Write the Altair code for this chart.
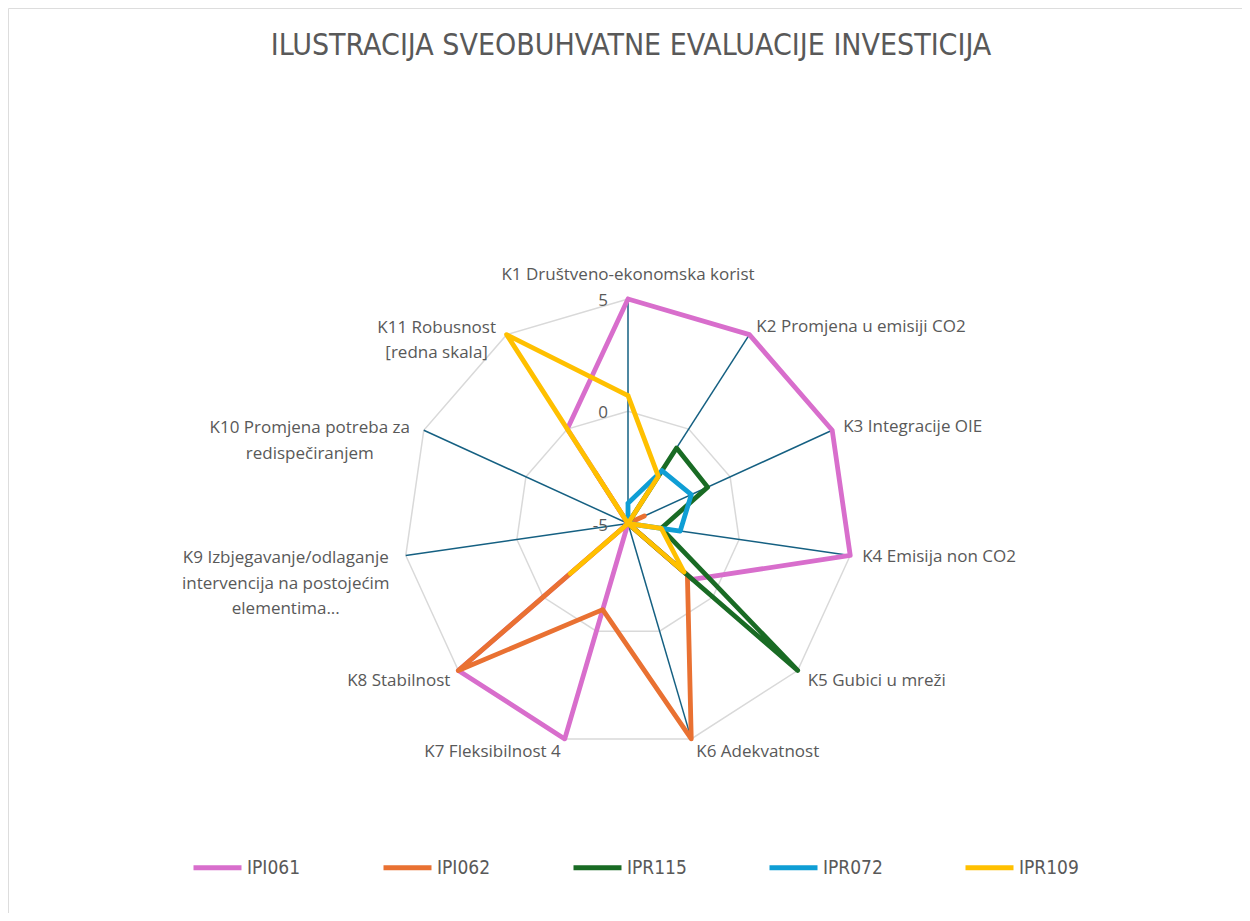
import math
import altair as alt
import pandas as pd

# ---------------- data ----------------
TITLE = "ILUSTRACIJA SVEOBUHVATNE EVALUACIJE INVESTICIJA"
CATEGORIES = [
    "K1 Društveno-ekonomska korist",
    "K2 Promjena u emisiji CO2",
    "K3 Integracije OIE",
    "K4 Emisija non CO2",
    "K5 Gubici u mreži",
    "K6 Adekvatnost",
    "K7 Fleksibilnost 4",
    "K8 Stabilnost",
    "K9 Izbjegavanje/odlaganje\nintervencija na postojećim\nelementima...",
    "K10 Promjena potreba za\nredispečiranjem",
    "K11 Robusnost\n[redna skala]",
]
SERIES = ["IPI061", "IPI062", "IPR115", "IPR072", "IPR109"]
IPI061 = [5, 5, 5, 5, -1.2, -5, 5, 5, -5, -5, 0]
IPI062 = [-5, -5, -4.2, -5, -1.5, 5, -1, 5, -5, -5, -2.3]
IPR115 = [-5, -1, -1.1, -3.5, 5, -5, -5, -5, -5, -5, -5]
IPR072 = [-4.1, -2.2, -1.9, -2.65, -5, -5, -5, -5, -5, -5, -5]
IPR109 = [0.7, -2.5, -5, -3.5, -1.7, -5, -5, -1.6, -5, -5, 5]
VALUES = [IPI061, IPI062, IPR115, IPR072, IPR109]
TICKS = [-5, 0, 5]

# ---------------- style / layout ----------------
COLORS = ["#D86ECC", "#E97132", "#196B24", "#0F9ED5", "#FFC000"]
TEXT = "#595959"
LABEL_FONT = "Open Sans"
NARROW = "Liberation Sans Narrow, DejaVu Sans Condensed, Roboto, sans-serif"
W, H = 1234, 905
CX, CY = 620.0, 515.5
RPX = 224.5
VMIN, VMAX = TICKS[0], TICKS[-1]
N = len(CATEGORIES)
# label nudges (px): dx, dy, align
LABEL_POS = [
    (0, -24, "center"), (7, -8, "left"), (11, -3, "left"), (12, 2, "left"),
    (10, 10, "left"), (5, 13, "left"), (-4, 13, "right"), (-8, 10, "right"),
    (-120, 3, "center"), (-114, -2, "center"), (-70, -7, "center"),
]

rows = []
for s, vals in zip(SERIES, VALUES):
    for i, v in enumerate(vals + [vals[0]]):
        rows.append({"series": s, "idx": i, "value": v})
series_df = pd.DataFrame(rows)

grid_rows = []
for t in TICKS[1:]:
    for i in range(N + 1):
        grid_rows.append({"tick": t, "idx": i})
grid_df = pd.DataFrame(grid_rows)

cat_df = pd.DataFrame({
    "idx": list(range(N)),
    "label": CATEGORIES,
    "ndx": [p[0] for p in LABEL_POS],
    "ndy": [p[1] for p in LABEL_POS],
    "align": [p[2] for p in LABEL_POS],
})
tick_df = pd.DataFrame({"tick": TICKS, "label": [str(t) for t in TICKS]})

xs = alt.Scale(domain=[-CX / RPX, (W - CX) / RPX], nice=False, zero=False)
ys = alt.Scale(domain=[-(H - CY) / RPX, CY / RPX], nice=False, zero=False)

ANG = f"datum.idx * 2 * PI / {N}"
RAD = f"(datum.value - ({VMIN})) / ({VMAX - VMIN})"

# grid rings
rings = alt.Chart(grid_df).transform_calculate(
    r=f"(datum.tick - ({VMIN})) / ({VMAX - VMIN})", ang=ANG
).transform_calculate(
    x="datum.r * sin(datum.ang)", y="datum.r * cos(datum.ang)"
).mark_line(color="#D9D9D9", strokeWidth=1.5).encode(
    x=alt.X("x:Q", scale=xs, axis=None),
    y=alt.Y("y:Q", scale=ys, axis=None),
    detail="tick:N",
    order="idx:Q",
)

# spokes
spokes = alt.Chart(cat_df).transform_calculate(
    ang=ANG
).transform_calculate(
    x0="0", y0="0", x1="sin(datum.ang)", y1="cos(datum.ang)"
).mark_rule(color="#156082", strokeWidth=1.5).encode(
    x=alt.X("x0:Q", scale=xs, axis=None),
    y=alt.Y("y0:Q", scale=ys, axis=None),
    x2="x1:Q",
    y2="y1:Q",
)

legend = alt.Legend(
    orient="none", legendX=183, legendY=833, direction="horizontal", title=None,
    symbolType="stroke", symbolSize=2304, symbolStrokeWidth=5,
    labelFont=NARROW, labelFontSize=19, labelColor=TEXT, labelOffset=3,
    columnPadding=72,
)
color = alt.Color("series:N", scale=alt.Scale(domain=SERIES, range=COLORS), legend=legend)

layers = [rings, spokes]
for s in SERIES:
    layers.append(
        alt.Chart(series_df).transform_filter(alt.datum.series == s).transform_calculate(
            r=RAD, ang=ANG
        ).transform_calculate(
            x="datum.r * sin(datum.ang)", y="datum.r * cos(datum.ang)"
        ).mark_line(strokeWidth=4.8, strokeJoin="round", strokeCap="round").encode(
            x=alt.X("x:Q", scale=xs, axis=None),
            y=alt.Y("y:Q", scale=ys, axis=None),
            color=color,
            order="idx:Q",
        )
    )

for al in ["left", "right", "center"]:
    layers.append(
        alt.Chart(cat_df).transform_filter(alt.datum.align == al).transform_calculate(
            ang=ANG
        ).transform_calculate(
            lx=f"sin(datum.ang) + datum.ndx / {RPX}",
            ly=f"cos(datum.ang) - datum.ndy / {RPX}",
        ).mark_text(
            align=al, baseline="middle", font=LABEL_FONT, fontSize=17, color=TEXT,
            lineBreak="\n", lineHeight=25.5,
        ).encode(
            x=alt.X("lx:Q", scale=xs, axis=None),
            y=alt.Y("ly:Q", scale=ys, axis=None),
            text="label:N",
        )
    )

tick_text = alt.Chart(tick_df).transform_calculate(
    tx="0", ty=f"(datum.tick - ({VMIN})) / ({VMAX - VMIN})"
).mark_text(
    align="right", baseline="middle", dx=-20, dy=2, font=LABEL_FONT, fontSize=17, color=TEXT
).encode(
    x=alt.X("tx:Q", scale=xs, axis=None),
    y=alt.Y("ty:Q", scale=ys, axis=None),
    text="label:N",
)
layers.append(tick_text)

chart = alt.layer(*layers).properties(
    width=W, height=H,
    title=alt.TitleParams(
        text=TITLE, font=NARROW, fontSize=30, fontWeight="normal", color=TEXT,
        anchor="middle", frame="group", offset=-49, dx=6, dy=28, baseline="alphabetic",
    ),
    autosize=alt.AutoSizeParams(type="none"),
    padding={"left": 0, "top": 0, "right": 0, "bottom": 0},
).configure_view(stroke="#D9D9D9", strokeWidth=1).configure(background="white")

chart.save("out.html", embed_options={"renderer": "svg", "actions": False})
